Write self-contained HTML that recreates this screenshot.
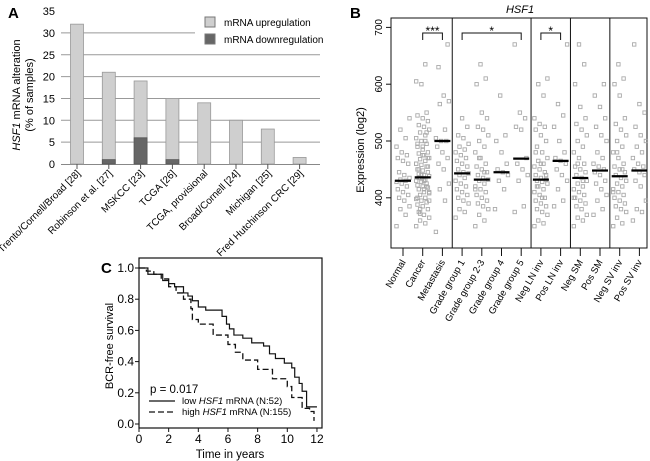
<!DOCTYPE html>
<html><head><meta charset="utf-8"><style>
body{margin:0;background:#fff;}
svg{display:block;font-family:"Liberation Sans",Arial,sans-serif;}
</style></head><body>
<svg id="fig" width="650" height="461" viewBox="0 0 650 461">
<g id="pa"></g>
<g id="pb"></g>
<g id="pc"></g>
</svg>
<script>
// ---- Panel A data ----
const aCategories=["Trento/Cornell/Broad [28]","Robinson et al. [27]","MSKCC [23]","TCGA [26]","TCGA, provisional","Broad/Cornell [24]","Michigan [25]","Fred Hutchinson CRC [29]"];
const aUp=[32,21,19,15,14,10,8,1.5];
const aDown=[0,1,6,1,0,0,0,0];
const aTicks=[0,5,10,15,20,25,30,35];
// ---- Panel B data ----
const bCategories=["Normal","Cancer","Metastasis","Grade group 1","Grade group 2-3","Grade group 4","Grade group 5","Neg LN inv","Pos LN inv","Neg SM","Pos SM","Neg SV inv","Pos SV inv"];
const bMedians=[430,436,500,443,432,445,469,432,465,435,448,438,448];
const bTicks=[400,500,600,700];
const bPoints=[
[350,370,380,385,395,400,405,410,415,420,425,428,430,432,435,440,445,460,465,470,475,480,490,505,520,540],
[350,355,360,365,370,375,380,385,388,392,395,398,400,405,408,410,415,418,420,422,425,428,430,432,435,438,440,442,445,448,450,455,458,460,465,468,470,475,478,480,485,490,495,500,505,510,515,520,525,528,535,540,545,550,600,605,635,380,410,430,450,470,490,400,420,440,460,500,372,395,415,435,455,475,495,515],
[340,395,415,425,450,460,470,480,490,500,500,505,520,565,570,580,630,670],
[365,375,380,390,395,400,405,410,415,420,425,430,435,440,443,445,450,455,460,465,470,475,480,485,490,495,505,510,525,540],
[350,360,370,380,385,390,395,400,405,410,415,420,425,430,432,435,440,445,450,455,460,470,480,490,500,510,520,525,540,550,600,610,635,415,445,470],
[380,415,430,440,445,450,460,480,500,510,580],
[375,385,430,440,450,460,470,520,525,540,550,670],
[350,355,360,370,375,380,385,390,395,400,405,410,415,420,425,428,430,432,435,440,445,450,455,460,465,470,480,490,500,510,520,525,530,540,580,600,610,400,420,440,460,480],
[385,395,415,430,440,450,460,465,470,480,500,525,545,565,670],
[350,360,365,370,380,385,390,395,400,405,410,415,420,425,430,435,440,445,450,455,460,470,480,490,500,510,520,530,540,560,600,635,670,400,430,460],
[370,380,395,405,415,425,430,440,445,450,455,460,470,480,500,510,525,540,560,580,600],
[350,355,365,375,380,385,390,395,400,405,410,415,420,425,430,435,440,445,450,455,460,470,480,490,500,510,520,530,540,580,600,610,635,410,450,480],
[360,375,380,395,420,430,440,445,450,455,460,470,480,490,500,510,525,550,565,670]
];
// ---- Panel C data ----
const lowT=[0,0.6,1.6,2.0,2.4,3.0,3.3,3.6,4.0,4.5,5.6,5.9,6.1,6.4,7.0,7.6,8.4,8.8,9.2,9.8,10.3,10.5,10.8,11.0,11.3,11.9];
const lowS=[1,0.96,0.92,0.90,0.88,0.84,0.82,0.79,0.75,0.73,0.69,0.64,0.61,0.57,0.55,0.52,0.50,0.45,0.42,0.39,0.36,0.30,0.26,0.21,0.11,0.11];
const highT=[0,0.5,1.0,1.5,2.0,2.5,3.0,3.5,3.6,4.0,5.0,6.0,6.5,7.0,8.0,9.0,10.0,10.3,11.0,11.5,11.8];
const highS=[1,0.98,0.96,0.93,0.88,0.84,0.80,0.74,0.67,0.64,0.57,0.51,0.46,0.41,0.35,0.29,0.24,0.17,0.10,0.08,0.02];
const cXTicks=[0,2,4,6,8,10,12];
const cYTicks=[0.0,0.2,0.4,0.6,0.8,1.0];

const NS="http://www.w3.org/2000/svg";
function mk(parent,tag,attrs,text){const e=document.createElementNS(NS,tag);for(const k in attrs)e.setAttribute(k,attrs[k]);if(text!==undefined)e.textContent=text;parent.appendChild(e);return e;}

// ===== Panel A =====
const pa=document.getElementById('pa');
const ax=i=>77+i*31.8, ay=v=>164-v*4.37;
let t=mk(pa,'text',{x:8,y:18,'font-size':15,'font-weight':'bold'},'A');


aTicks.forEach(v=>{
  if(v>0&&v<35){const x2=v===30?195:320;
  const l=mk(pa,'line',{x1:61,x2:x2,y1:ay(v),y2:ay(v),stroke:'#999','stroke-width':1});
  
  }
  const tl=mk(pa,'text',{x:55,y:ay(v)+4,'font-size':11,'text-anchor':'end'},String(v));
  
  
});
const base=mk(pa,'line',{x1:61,x2:320,y1:164.5,y2:164.5,stroke:'#888','stroke-width':1});


aCategories.forEach((c,i)=>{
  const x=ax(i);
  const up=mk(pa,'rect',{x:x-6.5,y:ay(aUp[i]),width:13,height:ay(0)-ay(aUp[i]),fill:'#cfcfcf',stroke:'#999','stroke-width':0.8});
  
  
  if(aDown[i]>0){const dn=mk(pa,'rect',{x:x-6.5,y:ay(aDown[i]),width:13,height:ay(0)-ay(aDown[i]),fill:'#666',stroke:'#555','stroke-width':0.8});
  
  }
  const tk=mk(pa,'line',{x1:x,x2:x,y1:164,y2:169,stroke:'#555'});
  
  
  const lb=mk(pa,'text',{transform:`translate(${x+4},${174}) rotate(-45)`,'font-size':10,'text-anchor':'end'},c);
  
  
});
const yt=mk(pa,'text',{transform:'translate(20,95) rotate(-90)','font-size':11,'text-anchor':'middle'});


mk(yt,'tspan',{'font-style':'italic'},'HSF1');mk(yt,'tspan',{},' mRNA alteration');
const yt2=mk(pa,'text',{transform:'translate(33,95) rotate(-90)','font-size':11,'text-anchor':'middle'},'(% of samples)');


[['mRNA upregulation','#cfcfcf',17],['mRNA downregulation','#666',34]].forEach(([n,f,y])=>{
  const g=mk(pa,'g',{});
  
  
  mk(g,'rect',{x:205,y:y,width:10,height:10,fill:f,stroke:'#777'});
  mk(g,'text',{x:224,y:y+9,'font-size':10},n);
});

// ===== Panel B =====
const pb=document.getElementById('pb');
const bx=i=>403+i*19.7, by=v=>141-(v-500)*0.568;
t=mk(pb,'text',{x:350,y:18,'font-size':15,'font-weight':'bold'},'B');


t=mk(pb,'text',{x:520,y:13,'font-size':11,'font-style':'italic','text-anchor':'middle'},'HSF1');


const box=mk(pb,'rect',{x:391,y:18,width:256,height:230,fill:'none',stroke:'#111','stroke-width':1});


[2,6,8,10].forEach(i=>{const s=mk(pb,'line',{x1:(bx(i)+bx(i+1))/2,x2:(bx(i)+bx(i+1))/2,y1:18,y2:248,stroke:'#111'});

});
bTicks.forEach(v=>{
  const tk=mk(pb,'line',{x1:386,x2:391,y1:by(v),y2:by(v),stroke:'#111'});
  
  
  const tl=mk(pb,'text',{transform:`translate(382,${by(v)}) rotate(-90)`,'font-size':10,'text-anchor':'middle'},String(v));
  
  
});
t=mk(pb,'text',{transform:'translate(364,150) rotate(-90)','font-size':11,'text-anchor':'middle'},'Expression (log2)');


bCategories.forEach((c,i)=>{
  const x=bx(i);
  bPoints[i].forEach((v,j)=>{
    const off=(((j*7)%11)-5)*1.3;
    const p=mk(pb,'rect',{x:x+off-1.7,y:by(v)-1.7,width:3.4,height:3.4,fill:'none',stroke:'#aaa','stroke-width':0.9});
    
    
  });
  const m=mk(pb,'line',{x1:x-8,x2:x+8,y1:by(bMedians[i]),y2:by(bMedians[i]),stroke:'#000','stroke-width':2.2});
  
  
  const tk=mk(pb,'line',{x1:x,x2:x,y1:248,y2:256,stroke:'#111'});
  
  
  const lb=mk(pb,'text',{transform:`translate(${x+3},${262}) rotate(-60)`,'font-size':9.5,'text-anchor':'end'},c);
  
  
});
[[1,2,'***'],[3,6,'*'],[7,8,'*']].forEach(([a,b,s])=>{
  const g=mk(pb,'g',{});
  
  
  mk(g,'path',{d:`M${bx(a)},40 V33 H${bx(b)} V40`,fill:'none',stroke:'#111'});
  mk(g,'text',{x:(bx(a)+bx(b))/2,y:35,'font-size':12,'text-anchor':'middle'},s);
});

// ===== Panel C =====
const pc=document.getElementById('pc');
const cx=v=>139+v*14.83, cy=s=>424-s*156;
t=mk(pc,'text',{x:101,y:273,'font-size':15,'font-weight':'bold'},'C');


const cb=mk(pc,'rect',{x:139,y:258,width:183,height:170,fill:'none',stroke:'#111','stroke-width':1.2});


cXTicks.forEach(v=>{
  const tk=mk(pc,'line',{x1:cx(v),x2:cx(v),y1:428,y2:432,stroke:'#111'});
  
  
  const tl=mk(pc,'text',{x:cx(v),y:443,'font-size':12,'text-anchor':'middle'},String(v));
  
  
});
cYTicks.forEach(v=>{
  const tk=mk(pc,'line',{x1:135,x2:139,y1:cy(v),y2:cy(v),stroke:'#111'});
  
  
  const tl=mk(pc,'text',{x:134,y:cy(v)+4,'font-size':12,'text-anchor':'end'},v.toFixed(1));
  
  
});
t=mk(pc,'text',{x:230,y:458,'font-size':11.5,'text-anchor':'middle'},'Time  in years');


t=mk(pc,'text',{transform:'translate(113,346) rotate(-90)','font-size':11,'text-anchor':'middle'},'BCR-free survival');


function stepPath(T,S){let d=`M${cx(T[0])},${cy(S[0])}`;for(let i=1;i<T.length;i++){d+=` H${cx(T[i])} V${cy(S[i])}`;}return d;}
const lo=mk(pc,'path',{d:stepPath(lowT,lowS)+` H${cx(12)}`,fill:'none',stroke:'#111','stroke-width':1.2});


const hi=mk(pc,'path',{d:stepPath(highT,highS),fill:'none',stroke:'#111','stroke-width':1.3,'stroke-dasharray':'6,3'});


t=mk(pc,'text',{x:150,y:393,'font-size':11.5},'p = 0.017');


[['low ',' mRNA (N:52)','none',401],['high ',' mRNA (N:155)','6,3',412]].forEach(([a,b,da,y])=>{
  const g=mk(pc,'g',{});
  
  
  mk(g,'line',{x1:149,x2:175,y1:y,y2:y,stroke:'#111','stroke-width':1.2,'stroke-dasharray':da});
  const tx=mk(g,'text',{x:182,y:y+3,'font-size':9.5});
  mk(tx,'tspan',{},a);mk(tx,'tspan',{'font-style':'italic'},'HSF1');mk(tx,'tspan',{},b);
});
</script>
</body></html>
